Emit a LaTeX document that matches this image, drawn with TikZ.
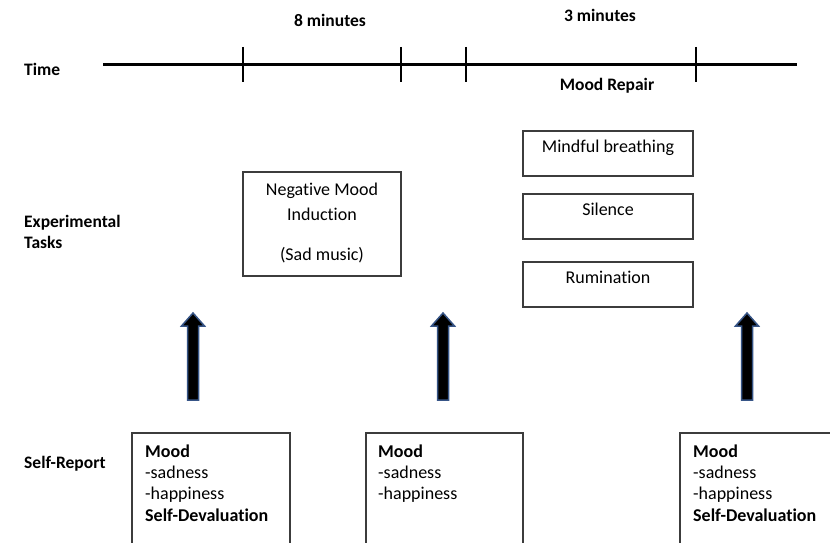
\documentclass[tikz,border=0pt]{standalone}
\usepackage{fontspec}
\setmainfont{Carlito}[Ligatures=NoCommon]
\definecolor{boxline}{RGB}{60,60,60}
\definecolor{arrowblue}{RGB}{55,85,135}
\begin{document}
\begin{tikzpicture}[x=1pt,y=-1pt,
  lbl/.style={font=\fontsize{17.5}{20}\selectfont\bfseries, inner sep=0pt, anchor=base},
  taskbox/.style={draw=boxline, line width=1.2pt, minimum width=170pt, minimum height=45pt, inner sep=0pt},
  boxtext/.style={font=\fontsize{18}{20}\selectfont, inner sep=0pt, anchor=base},
  srtext/.style={font=\fontsize{18}{20}\selectfont, inner sep=0pt, anchor=base west},
  srbold/.style={srtext, font=\fontsize{18}{20}\selectfont\bfseries},
  srbox/.style={draw=boxline, line width=1.2pt},
  tick/.style={line width=2pt},
  upar/.style={fill=black, draw=arrowblue, line width=1.5pt, line join=miter}]
\useasboundingbox (0,0) rectangle (830,543);
% timeline
\coordinate (tl0) at (103,65);
\coordinate (tl1) at (797,65);
\draw[line width=3pt] (tl0) -- (tl1);
\foreach \x/\n in {243/a,401/b,466/c,696/d}{
  \coordinate (t\n top) at (\x,47);
  \coordinate (t\n bot) at (\x,82);
  \draw[tick] (t\n top) -- (t\n bot);
}
\node[lbl, anchor=base west] (time) at (24,75) {Time};
\node[lbl] (eight) at (330,27) {8 minutes};
\node[lbl] (three) at (600,22) {3 minutes};
\node[lbl] (repair) at (607,91) {Mood Repair};
\node[lbl, anchor=base west] (exp1) at (24,227) {Experimental};
\node[lbl, anchor=base west] (exp2) at (24,248) {Tasks};
\node[lbl, anchor=base west] (sr) at (24,468) {Self-Report};
% negative mood induction
\node[draw=boxline, line width=1.2pt, minimum width=158pt, minimum height=104pt, inner sep=0pt] (nmi) at (322,224) {};
\node[boxtext] (nmi1) at (322,195) {Negative Mood};
\node[boxtext] (nmi2) at (322,220) {Induction};
\node[boxtext] (nmi3) at (322,260) {(Sad music)};
% mood repair boxes
\node[taskbox] (mb) at (608,153.5) {};
\node[boxtext] (mbt) at (608,152) {Mindful breathing};
\node[taskbox] (si) at (608,216.5) {};
\node[boxtext] (sit) at (608,215) {Silence};
\node[taskbox] (ru) at (608,284.5) {};
\node[boxtext] (rut) at (608,283) {Rumination};
% arrows
\foreach \x/\n in {193/1,443/2,747/3}{
  \draw[upar] (\x-5.5,400) -- (\x-5.5,326) -- (\x-11.5,326) -- (\x,313) -- (\x+11.5,326) -- (\x+5.5,326) -- (\x+5.5,400) -- cycle;
}
% self report boxes
\draw[srbox] (132,545) -- (132,433) -- (290,433) -- (290,545);
\node[srbold] (s1a) at (145,457) {Mood};
\node[srtext] (s1b) at (145,478) {-sadness};
\node[srtext] (s1c) at (145,499.5) {-happiness};
\node[srbold] (s1d) at (145,521) {Self-Devaluation};
\draw[srbox] (366,545) -- (366,433) -- (523,433) -- (523,545);
\node[srbold] (s2a) at (378,457) {Mood};
\node[srtext] (s2b) at (378,478) {-sadness};
\node[srtext] (s2c) at (378,499.5) {-happiness};
\draw[srbox] (680,545) -- (680,433) -- (832,433);
\node[srbold] (s3a) at (693,457) {Mood};
\node[srtext] (s3b) at (693,478) {-sadness};
\node[srtext] (s3c) at (693,499.5) {-happiness};
\node[srbold] (s3d) at (693,521) {Self-Devaluation};
\end{tikzpicture}
\end{document}
